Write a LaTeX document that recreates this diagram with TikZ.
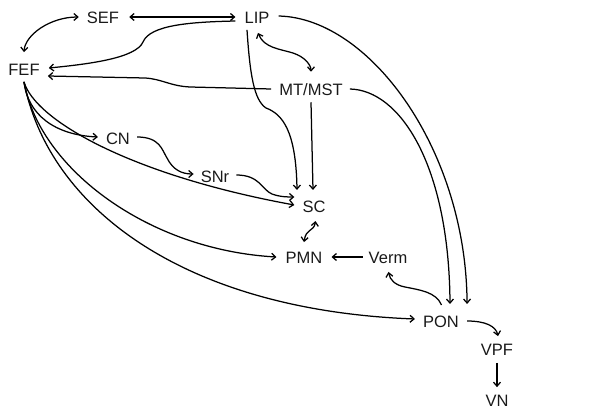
\documentclass[tikz,border=0pt]{standalone}
\usepackage{fontspec}
\setmainfont{Liberation Sans}
\usetikzlibrary{arrows.meta,calc}
\tikzset{
  area/.style={font=\fontsize{16.5}{19}\selectfont, inner sep=2pt, text=black!90},
  tip/.style={Straight Barb[length=4pt,width=7pt]},
  conn/.style={line width=1.25pt, -{Straight Barb[length=4pt,width=7pt]}},
  biconn/.style={line width=1.25pt, {Straight Barb[length=4pt,width=7pt]}-{Straight Barb[length=4pt,width=7pt]}}
}
\begin{document}
\begin{tikzpicture}[x=1pt,y=-1pt]
\useasboundingbox (0,0) rectangle (598,409);
% brain areas
\node[area] (sef)  at (103,18)  {SEF};
\node[area] (lip)  at (257,18)  {LIP};
\node[area] (fef)  at (24,70)   {FEF};
\node[area] (mt)   at (311,90)  {MT/MST};
\node[area] (cn)   at (118,139) {CN};
\node[area] (snr)  at (215,177) {SNr};
\node[area] (sc)   at (314,207) {SC};
\node[area] (pmn)  at (304,258) {PMN};
\node[area] (verm) at (388,258) {Verm};
\node[area] (pon)  at (441,322) {PON};
\node[area] (vpf)  at (497,350) {VPF};
\node[area] (vn)   at (497,401) {VN};

% cortical loops
\draw[biconn] ($(fef.north)+(0,-10)$) .. controls (25,35) and (50,17) .. ($(sef.west)+(-6,-1)$);
\draw[biconn] ($(sef.east)+(8,-1)$) -- ($(lip.west)+(-7,-1)$);
\draw[conn] ($(lip.west)+(-7,3)$) .. controls (190,22) and (150,25) .. (143,42)
  .. controls (136,58) and (90,64) .. ($(fef.east)+(7,-2)$);
\draw[conn] ($(mt.west)+(-6,-1)$) -- (190,87) .. controls (170,86) and (162,79) .. (145,78)
  -- ($(fef.east)+(6,6)$);
\draw[biconn] ($(lip.south)+(1,7)$) .. controls (264,48) and (280,49) .. (293,53)
  .. controls (305,57) and (311,65) .. ($(mt.north)+(0,-10)$);

% descending pathways to the pons
\draw[conn] ($(lip.east)+(7,-2)$) .. controls (370,18) and (466,150) .. ($(pon.north east)+(6,-10)$);
\draw[conn] ($(mt.east)+(5,-1)$) .. controls (400,90) and (449,165) .. ($(pon.north)+(9,-10)$);

% inputs to the superior colliculus
\draw[conn] ($(lip.south)+(-10,4)$) .. controls (250,75) and (254,100) .. (266,108)
  .. controls (282,114) and (296,130) .. ($(sc.north)+(-17,-9)$);
\draw[conn] ($(mt.south)+(0,4)$) -- ($(sc.north)+(-1,-9)$);

% frontal eye field outputs
\draw[conn] ($(fef.south)+(0,4)$) .. controls (28,115) and (55,135) .. ($(cn.west)+(-6,-2)$);
\draw[conn] ($(fef.south)+(0,4)$) .. controls (35,120) and (130,175) .. ($(sc.west)+(-6,-2)$);
\draw[conn] ($(fef.south)+(0,4)$) .. controls (40,170) and (150,250) .. ($(pmn.west)+(-7,-1)$);
\draw[conn] ($(fef.south)+(0,4)$) .. controls (48,205) and (180,310) .. ($(pon.west)+(-6,-3)$);

% basal ganglia route
\draw[conn] ($(cn.east)+(5,-2)$) .. controls (160,137) and (162,150) .. (167,158)
  .. controls (173,170) and (182,174) .. ($(snr.west)+(-5,-3)$);
\draw[conn] ($(snr.east)+(5,-2)$) .. controls (260,175) and (262,190) .. (272,194)
  .. controls (280,197) and (288,197) .. ($(sc.west)+(-6,-10)$);

% brainstem
\draw[biconn] ($(sc.south)+(1.5,6)$) .. controls (314,232) and (306,228) .. ($(pmn.north)+(0,-8)$);
\draw[conn] ($(verm.west)+(-4,-1)$) -- ($(pmn.east)+(7,-1)$);
\draw[conn] ($(pon.north)+(0.5,-9)$) .. controls (436,292) and (420,290) .. (405,287)
  .. controls (395,285) and (390,280) .. ($(verm.south)+(0.5,6)$);
\draw[conn] ($(pon.east)+(6,-1)$) .. controls (485,321) and (496,326) .. ($(vpf.north)+(1,-6)$);
\draw[conn] ($(vpf.south)+(0,5)$) -- ($(vn.north)+(0,-6)$);
\end{tikzpicture}
\end{document}
